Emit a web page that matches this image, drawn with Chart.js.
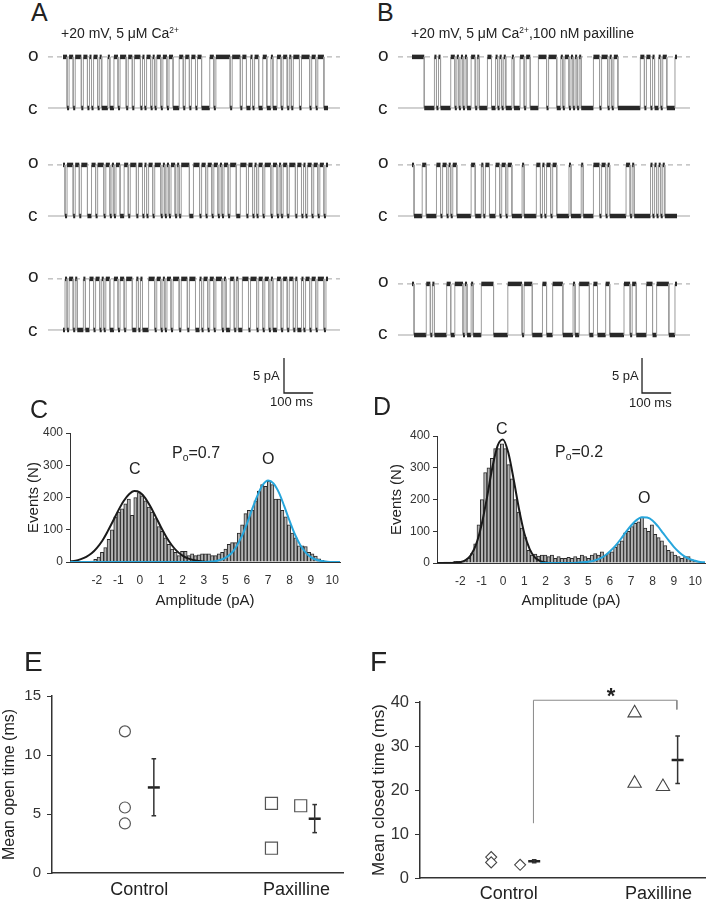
<!DOCTYPE html>
<html lang="en">
<head>
<meta charset="utf-8">
<title>BK channel recordings: control vs paxilline</title>
<script src="https://cdn.jsdelivr.net/npm/chart.js@4.4.1/dist/chart.umd.min.js"></script>
<style>
  html, body { margin: 0; padding: 0; background: #fff; }
  body { position: relative; width: 714px; height: 900px; overflow: hidden;
         font-family: "Liberation Sans", Arial, sans-serif; color: #222; }
  canvas { position: absolute; }
  .lbl { position: absolute; white-space: nowrap; line-height: 1; }
  .panel { font-size: 25px; }
  .big { font-size: 28px; }
  .oc { font-size: 19px; }
  .ttl { font-size: 14px; }
  .sb { font-size: 13px; }
  .ann { font-size: 16px; }
  .sup { font-size: 60%; position: relative; top: -0.55em; }
  .sub { font-size: 65%; position: relative; top: 0.3em; }
</style>
</head>
<body>
<canvas id="traceA" width="357" height="360" style="left:0;top:40px"></canvas>
<canvas id="traceB" width="357" height="360" style="left:357px;top:40px"></canvas>
<canvas id="histC" width="357" height="190" style="left:0;top:420px"></canvas>
<canvas id="histD" width="357" height="190" style="left:357px;top:420px"></canvas>
<canvas id="openE" width="357" height="220" style="left:0;top:680px"></canvas>
<canvas id="closedF" width="357" height="220" style="left:357px;top:680px"></canvas>

<!-- 패널 문자 -->
<div class="lbl panel" style="left:31px;top:0">A</div>
<div class="lbl panel" style="left:377px;top:0">B</div>
<div class="lbl panel" style="left:30px;top:397px">C</div>
<div class="lbl panel" style="left:373px;top:394px">D</div>
<div class="lbl big" style="left:24px;top:648px">E</div>
<div class="lbl big" style="left:370px;top:648px">F</div>

<!-- 기록 조건 -->
<div class="lbl ttl" style="left:61px;top:26px">+20 mV, 5 μM Ca<span class="sup">2+</span></div>
<div class="lbl ttl" style="left:411px;top:26px">+20 mV, 5 μM Ca<span class="sup">2+</span>,100 nM paxilline</div>

<!-- open / closed 표시 -->
<div class="lbl oc" style="left:28px;top:45px">o</div>
<div class="lbl oc" style="left:28px;top:98px">c</div>
<div class="lbl oc" style="left:28px;top:152px">o</div>
<div class="lbl oc" style="left:28px;top:205px">c</div>
<div class="lbl oc" style="left:28px;top:266px">o</div>
<div class="lbl oc" style="left:28px;top:320px">c</div>
<div class="lbl oc" style="left:378px;top:45px">o</div>
<div class="lbl oc" style="left:378px;top:98px">c</div>
<div class="lbl oc" style="left:378px;top:152px">o</div>
<div class="lbl oc" style="left:378px;top:205px">c</div>
<div class="lbl oc" style="left:378px;top:271px">o</div>
<div class="lbl oc" style="left:378px;top:323px">c</div>

<!-- 스케일 바 글자 -->
<div class="lbl sb" style="left:253px;top:369px">5 pA</div>
<div class="lbl sb" style="left:270px;top:395px">100 ms</div>
<div class="lbl sb" style="left:612px;top:369px">5 pA</div>
<div class="lbl sb" style="left:629px;top:396px">100 ms</div>

<!-- 히스토그램 주석 -->
<div class="lbl ann" style="left:129px;top:461px">C</div>
<div class="lbl ann" style="left:172px;top:445px">P<span class="sub">o</span>=0.7</div>
<div class="lbl ann" style="left:262px;top:451px">O</div>
<div class="lbl ann" style="left:496px;top:421px">C</div>
<div class="lbl ann" style="left:555px;top:444px">P<span class="sub">o</span>=0.2</div>
<div class="lbl ann" style="left:638px;top:490px">O</div>

<div class="lbl" style="left:611px;top:685px;font-size:22px;font-weight:bold;transform:translateX(-50%)">*</div>

<script>
// ---------- 데이터 ----------
// 단일 채널 기록: 한 글자 = 7 ms 구간, 1 = open, 0 = closed (그림에서 눈으로 읽음)
const binMs = 7;
const openPA = 7.3;

const traceA1 = ['1101101110','1101011010','0010011011','1011011101','0110101101','1011000110','1101101100',
                 '0011011111','1101111011','0010110011','0010011011','0101110111','1011011100'].join('');
const traceA2 = ['1011101101','1100110111','0110101100','1101110110','1011011101','0101101011','1100111011',
                 '0110110101','1011100111','0110101101','1101101011','0111011010','1101101101'].join('');
const traceA3 = ['0101101000','1001101101','0110011011','0111001010','0011101101','0110111011','1011100101',
                 '1011011101','0011010011','1011101101','1010011011','0110100101','1011011101'].join('');
const traceB1 = ['1111110000','0101000001','1010101001','1010000110','0101010001','0001101100','0011110111',
                 '1001011010','1010000001','1101110101','1000000000','0011011010','0101100001'].join('');
const traceB2 = ['1000011000','0011011010','1100000001','1000101100','0110110110','0000100000','0110101101',
                 '1000000100','0001000001','1101101000','0000011010','0000000101','0101000000'].join('');
const traceB3 = ['1000000110','1000000110','0111101001','0000111111','0000000111','1111011110','0000110001',
                 '1111000001','0011111001','1000011000','0000111011','0000011100','1111110001'].join('');

// 진폭 히스토그램 (x 눈금 글자는 원본 그대로 4가 빠져 있음)
const ampTickPos = [-2, -1, 0, 1, 2, 3, 4, 5, 6, 7, 8, 9];
const ampTickLabels = ['-2', '-1', '0', '1', '2', '3', '5', '6', '7', '8', '9', '10'];
const eventTicks = [0, 100, 200, 300, 400];

const cBinStart = -2.23, cBinWidth = 0.156;
const cCounts = [3, 8, 15, 30, 45, 70, 100, 140, 155, 165, 180, 195, 145, 200, 215, 205, 190, 170, 155, 135,
                 110, 95, 75, 55, 40, 30, 20, 33, 33, 20, 25, 20, 22, 25, 25, 25, 20, 20, 25, 30,
                 40, 55, 60, 60, 90, 115, 150, 160, 160, 190, 220, 240, 235, 250, 240, 195, 195, 160, 140, 115,
                 90, 75, 50, 50, 48, 30, 25, 18, 10, 5, 3, 2, 2, 2];
const dBinStart = -2.70, dBinWidth = 0.156;
const dCounts = [3, 3, 3, 5, 5, 5, 8, 15, 30, 60, 120, 200, 285, 300, 330, 360, 360, 375, 360, 310,
                 265, 200, 160, 110, 80, 40, 25, 28, 22, 25, 25, 20, 25, 15, 20, 15, 15, 18, 15, 20,
                 15, 25, 20, 15, 25, 30, 25, 35, 25, 30, 35, 50, 60, 70, 95, 100, 115, 125, 130, 145,
                 110, 100, 120, 90, 80, 70, 55, 40, 35, 25, 20, 15, 20, 20, 10, 5, 5, 3];

// 가우스 맞춤 곡선 (0.25 pA 간격으로 읽은 값)
const fitStep = 0.25;
const cClosedFitStart = -3.25;
const cClosedFit = [2, 4, 9, 16, 27, 44, 66, 95, 127, 160, 189, 210, 220, 216, 199, 172, 140, 107, 77, 52,
                    33, 20, 11, 6, 3, 1, 0];
const cOpenFitStart = -3.25;
const cOpenFit = [0, 0, 0, 0, 0, 0, 0, 0, 0, 0, 0, 0, 0, 0, 0, 0, 0, 0, 0, 0, 0, 0, 0, 0, 0,
                  0, 1, 2, 6, 13, 25, 46, 77, 117, 163, 206, 239, 253, 244, 216, 174, 128, 86, 53, 30,
                  15, 7, 3, 1, 0, 0, 0];
const dClosedFitStart = -3.25;
const dClosedFit = [0, 0, 0, 0, 1, 3, 9, 25, 60, 121, 206, 300, 370, 389, 347, 263, 170, 93, 44, 17,
                    6, 2, 0, 0];
const dOpenFitStart = 1.75;
const dOpenFit = [0, 0, 0, 0, 0, 0, 0, 1, 2, 4, 7, 13, 22, 36, 53, 74, 97, 118, 135, 144,
                  143, 134, 116, 94, 72, 51, 34, 21, 12, 7, 3, 2];

// 평균 open / closed time
const groupLabels = ['Control', 'Paxilline'];
const eControl = [12.0, 5.55, 4.2];
const ePaxilline = [5.9, 2.1, 5.7];
const eMean = [7.25, 4.6];
const eLow = [4.85, 3.42];
const eHigh = [9.68, 5.8];
const fControl = [4.75, 3.55, 3.0];
const fPaxilline = [37.5, 21.5, 20.75];
const fMean = [3.8, 26.8];
const fLow = [3.45, 21.5];
const fHigh = [4.15, 32.3];
const fSigBracket = [12.45, 40.4, 40.4, 38.3];

// ---------- 배치 (데이터 아님) ----------
const traceBasesA = [0, -15.43, -31.71];
const traceBasesB = [0, -15.43, -32.43];
const scaleBarY = -40.714;
const eControlX = [0.909, 0.909, 0.909];
const ePaxX = [1.841, 1.841, 2.027];
const eMeanX = [1.093, 2.116];
const fControlX = [0.883, 0.883, 1.076];
const fPaxX = [1.84, 1.84, 2.029];
const fMeanX = [1.17, 2.127];
const fSigX = [1.165, 1.165, 2.122, 2.122];

Chart.defaults.font.family = '"Liberation Sans", Arial, sans-serif';
Chart.defaults.color = '#333';

const baseOptions = () => ({
  responsive: false, animation: false, events: [], devicePixelRatio: 1,
  plugins: { legend: { display: false }, tooltip: { enabled: false } },
  elements: { point: { radius: 0 }, line: { tension: 0 } }
});

// 상태 문자열 -> 계단 좌표
function statePoints(states, base) {
  const pts = [];
  for (let i = 0; i < states.length; i++) {
    const y = base + (states[i] === '1' ? openPA : 0);
    pts.push({ x: i * binMs, y }, { x: (i + 1) * binMs, y });
  }
  return pts;
}

const isFlat = c => c.p0.parsed.y === c.p1.parsed.y;

function traceChart(id, traces, bases, xRange, yRange, refX, barX) {
  const datasets = [];
  bases.forEach((b, k) => {
    datasets.push({ data: [{ x: refX[0], y: b + openPA }, { x: refX[1], y: b + openPA }], showLine: true,
                    borderColor: '#a3a3a3', borderWidth: 1, borderDash: [5, 4], order: 3 });
    datasets.push({ data: [{ x: refX[0], y: b }, { x: refX[1], y: b }], showLine: true,
                    borderColor: '#a3a3a3', borderWidth: 1, order: 3 });
    datasets.push({ data: statePoints(traces[k], b), showLine: true, borderColor: '#9c9c9c', borderWidth: 1, order: 2,
                    segment: { borderColor: c => isFlat(c) ? '#282828' : '#9c9c9c', borderWidth: c => isFlat(c) ? 4.5 : 1 } });
  });
  datasets.push({ data: [{ x: barX, y: scaleBarY + 5 }, { x: barX, y: scaleBarY }, { x: barX + 100, y: scaleBarY }],
                  showLine: true, borderColor: '#222', borderWidth: 1.3, order: 1 });
  const opts = baseOptions();
  opts.layout = { padding: 0 };
  opts.scales = {
    x: { type: 'linear', display: false, min: xRange[0], max: xRange[1] },
    y: { type: 'linear', display: false, min: yRange[0], max: yRange[1] }
  };
  return new Chart(document.getElementById(id), { type: 'scatter', data: { datasets }, options: opts });
}

traceChart('traceA', [traceA1, traceA2, traceA3], traceBasesA, [-216.3, 1009.6], [-41.714, 9.714], [-51.5, 951.2], 758.9);
traceChart('traceB', [traceB1, traceB2, traceB3], traceBasesB, [-188.9, 1037.0], [-41.714, 9.714], [-48.1, 954.6], 789.8);

function seriesFrom(start, step, values) {
  return values.map((v, i) => ({ x: start + i * step, y: v }));
}

function histChart(id, bars, fits, lay) {
  const datasets = [{ type: 'bar', data: bars, backgroundColor: '#b3b3b3', borderColor: '#2a2a2a', borderWidth: 1,
                      barPercentage: 1, categoryPercentage: 1, order: 5 }];
  fits.forEach((f, k) => datasets.push({ type: 'line', data: f.pts, borderColor: f.color, borderWidth: 2,
                                         pointRadius: 0, cubicInterpolationMode: 'monotone', order: 2 - k }));
  const opts = baseOptions();
  opts.layout = { padding: lay.pad };
  opts.scales = {
    x: { type: 'linear', min: lay.x[0], max: lay.x[1], offset: false,
         grid: { display: false, drawTicks: false }, border: { color: '#333', width: 1 },
         afterBuildTicks: s => { s.ticks = ampTickPos.map(v => ({ value: v })); },
         ticks: { padding: 11, font: { size: 12 }, color: '#333', maxRotation: 0, autoSkip: false,
                  callback: (v, i) => ampTickLabels[i] },
         title: { display: true, text: 'Amplitude (pA)', font: { size: 15 }, color: '#222', padding: 0 },
         afterFit: s => { s.height = lay.xh; } },
    y: { type: 'linear', min: 0, max: 400,
         afterBuildTicks: s => { s.ticks = eventTicks.map(v => ({ value: v })); },
         grid: { drawOnChartArea: false, drawTicks: true, tickLength: 4, color: '#333' },
         border: { color: '#333', width: 1 },
         ticks: { padding: 3, font: { size: 12 }, color: '#333' },
         title: { display: true, text: 'Events (N)', font: { size: 15 }, color: '#222', padding: 0 },
         afterFit: s => { s.width = lay.yw; } }
  };
  return new Chart(document.getElementById(id), { type: 'bar', data: { datasets }, options: opts });
}

histChart('histC', seriesFrom(cBinStart, cBinWidth, cCounts), [
  { pts: seriesFrom(cClosedFitStart, fitStep, cClosedFit), color: '#1a1a1a' },
  { pts: seriesFrom(cOpenFitStart, fitStep, cOpenFit), color: '#27a6dc' }
], { pad: { left: 25, top: 13, right: 17, bottom: 0 }, yw: 45, xh: 48, x: [-3.26, 9.36] });

histChart('histD', seriesFrom(dBinStart, dBinWidth, dCounts), [
  { pts: seriesFrom(dClosedFitStart, fitStep, dClosedFit), color: '#1a1a1a' },
  { pts: seriesFrom(dOpenFitStart, fitStep, dOpenFit), color: '#27a6dc' }
], { pad: { left: 31, top: 16, right: 9, bottom: 0 }, yw: 49, xh: 47, x: [-3.09, 9.46] });

function pts(xs, ys) { return ys.map((y, i) => ({ x: xs[i], y })); }

function errorSets(mx, mean, lo, hi) {
  const sets = [];
  mean.forEach((m, k) => {
    sets.push({ data: [{ x: mx[k], y: lo[k] }, { x: mx[k], y: hi[k] }], showLine: true,
                borderColor: '#333', borderWidth: 1.5, pointRadius: 0 });
    sets.push({ data: [{ x: mx[k], y: lo[k] }, { x: mx[k], y: hi[k] }], pointStyle: 'line', pointRadius: 2.3,
                pointBorderWidth: 1.5, pointBorderColor: '#333' });
    sets.push({ data: [{ x: mx[k], y: m }], pointStyle: 'line', pointRadius: 6,
                pointBorderWidth: 2.5, pointBorderColor: '#222' });
  });
  return sets;
}

function groupChart(id, datasets, lay) {
  const opts = baseOptions();
  opts.layout = { padding: lay.pad };
  opts.scales = {
    x: { type: 'linear', min: lay.x[0], max: lay.x[1],
         grid: { display: false, drawTicks: false }, border: { color: '#333', width: 1.5 },
         afterBuildTicks: s => { s.ticks = [1, 2].map(v => ({ value: v })); },
         ticks: { padding: lay.xpad, font: { size: 18 }, color: '#222', maxRotation: 0, autoSkip: false,
                  callback: (v, i) => groupLabels[i] },
         afterFit: s => { s.height = lay.xh; } },
    y: { type: 'linear', min: 0, max: lay.ymax,
         afterBuildTicks: s => { s.ticks = lay.yticks.map(v => ({ value: v })); },
         grid: { drawOnChartArea: false, drawTicks: true, tickLength: 5, color: '#333' },
         border: { color: '#333', width: 1.5 },
         ticks: { padding: 6, font: { size: lay.tickSize }, color: '#333' },
         title: { display: true, text: lay.title, font: { size: lay.titleSize }, color: '#222', padding: 0 },
         afterFit: s => { s.width = lay.yw; } }
  };
  return new Chart(document.getElementById(id), { type: 'scatter', data: { datasets }, options: opts });
}

groupChart('openE', [
  { data: pts(eControlX, eControl), pointStyle: 'circle', pointRadius: 5.5, pointBorderWidth: 1.2,
    pointBorderColor: '#555', pointBackgroundColor: '#fff' },
  { data: pts(ePaxX, ePaxilline), pointStyle: 'rect', pointRadius: 8.5, pointBorderWidth: 1.2,
    pointBorderColor: '#555', pointBackgroundColor: '#fff' },
  ...errorSets(eMeanX, eMean, eLow, eHigh)
], { pad: { left: 0, top: 16, right: 14, bottom: 0 }, yw: 52, xh: 27, xpad: 6, x: [0.4454, 2.296],
     ymax: 15, yticks: [0, 5, 10, 15], tickSize: 15, title: 'Mean open time (ms)', titleSize: 16 });

groupChart('closedF', [
  { data: pts(fSigX, fSigBracket), showLine: true, borderColor: '#8a8a8a', borderWidth: 1, pointRadius: 0, clip: false },
  { data: pts(fControlX, fControl), pointStyle: 'rectRot', pointRadius: 5.5, pointBorderWidth: 1.1,
    pointBorderColor: '#444', pointBackgroundColor: '#fff' },
  { data: pts(fPaxX, fPaxilline), pointStyle: 'triangle', pointRadius: 7.7, pointBorderWidth: 1.1,
    pointBorderColor: '#444', pointBackgroundColor: '#fff' },
  ...errorSets(fMeanX, fMean, fLow, fHigh)
], { pad: { left: 12, top: 22, right: 2, bottom: 0 }, yw: 51, xh: 22, xpad: 5, x: [0.408, 2.311],
     ymax: 40, yticks: [0, 10, 20, 30, 40], tickSize: 16.5, title: 'Mean closed time (ms)', titleSize: 17 });
</script>
</body>
</html>
